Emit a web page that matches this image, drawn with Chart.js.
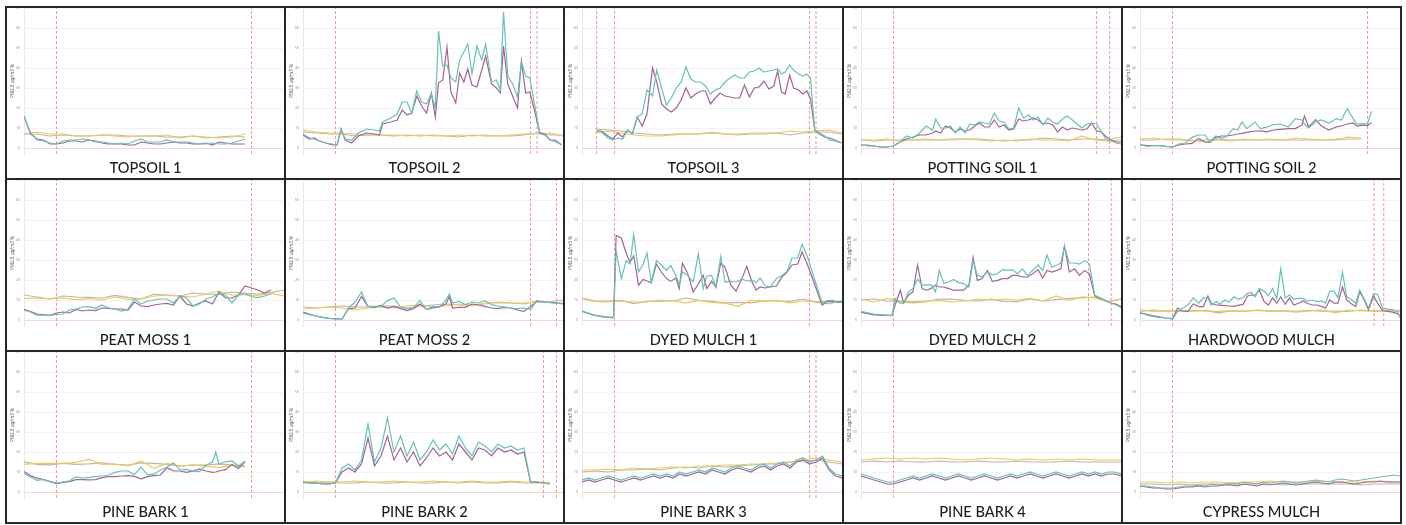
<!DOCTYPE html>
<html>
<head>
<meta charset="utf-8">
<script src="https://cdn.jsdelivr.net/npm/chart.js@4.4.1/dist/chart.umd.min.js"></script>
<style>
  body { margin: 0; background: #fff; width: 1406px; height: 525px; position: relative; overflow: hidden; }
  .cell { position: absolute; width: 281px; height: 174px; border: 2px solid #262626; box-sizing: border-box; background: #fff; }
  .cell canvas { position: absolute; left: 0; top: 0; }
  .name { position: absolute; left: 0; top: 151px; width: 277px; height: 18px; line-height: 18px; text-align: center;
          font-family: Lato, "Noto Sans", sans-serif; font-weight: 500; font-size: 14.6px; color: #1e1e1e; }
</style>
</head>
<body>
<script>
// panel names, first x tick (minutes after midnight), red marker times (minutes after first tick)
const titles = ['TOPSOIL 1', 'TOPSOIL 2', 'TOPSOIL 3', 'POTTING SOIL 1', 'POTTING SOIL 2',
                'PEAT MOSS 1', 'PEAT MOSS 2', 'DYED MULCH 1', 'DYED MULCH 2', 'HARDWOOD MULCH',
                'PINE BARK 1', 'PINE BARK 2', 'PINE BARK 3', 'PINE BARK 4', 'CYPRESS MULCH'];
const firstTick = [931, 859, 785, 827, 908, 778, 667, 601, 695, 648, 923, 567, 748, 832, 778];
const redLines = [[10, 70], [10, 70, 72], [4.5, 10, 70, 72], [10, 72.5, 76.5], [10, 70],
                  [10, 70], [10, 70, 78], [10, 70], [10, 70, 77], [10, 72, 75],
                  [10, 70], [10, 74, 78], [10, 70, 72], [10], [10]];
// the two slow sensors are read every 4 minutes from this offset
const slowStart = [0, 0, 4, 0, 0, 0, 0, 0, 0, 0, 0, 0, 0, 0, 0];
const slowStep = 4;

// TOPSOIL 1
const p1Times = [0,2,4,6,8,10,12,14,16,18,20,22,24,26,28,30,32,34,36,38,40,42,44,46,48,50,52,54,56,58,60,62,64,66,68];
const p1Teal = [16,7.5,4,3.5,2.5,2,3.5,4,4,4.5,4,3,3,2.5,2,2.5,2,3.5,4.5,3,3,3,4,3,3,3,2.5,2,2,2.5,2,2,2.5,3.5,4.5];
const p1Purple = [16,7,4.5,4,2,2,2.5,3.5,3.5,3,4,3.5,2.5,2,2,2,1.5,1.5,3,2.5,2,2,2.5,3,2.5,2.5,2,2,2.5,1.5,3,2.5,2,2,2];
const p1Yellow = [7,8,7,7,6,6,6.5,6,5.5,6,6,6.5,5,6,5.5,5,5.5,7];
const p1Grey = [7,7,6,6.5,6,6,6.5,6.5,6,6,6,5.5,5.5,6,5,5.5,6,5.5];

// TOPSOIL 2
const p2Times = [0,2,3.5,5,7,9,10.5,11.7,13,15,17,19.5,22,23.5,24.5,27,29,30.5,32,33.5,35,36.5,38,39.5,40.7,41.7,43,44.3,45.5,47,48.2,49.5,50.7,52,53.5,55,56.2,58,59.5,60.7,61.7,63,64.5,66,67.2,68.5,69.8,71.5,72.8,74.5,76,77.6,79.5];
const p2Teal = [7,5,4.5,3.5,2.5,2,1.5,9.5,4.5,4,7.5,9.5,9,8.5,13,15,17,23,23,17.5,28.5,23,22,27,20,58.5,41,41.5,35,33,44,48,52,37,51,44,52,33,34,29,68,36,32,25.5,43,36,35,19.5,8,7,4,3,2];
const p2Purple = [6.5,4.5,5,3.5,2.5,1.5,1.5,9.5,4,2.5,6,7.5,7,6.5,12,13,14,19,16.5,17.5,26,21,17.5,27.5,15.5,32.5,34,50.5,28,22.5,37.5,33,39.5,31.5,30.5,39,46,32,30,27.5,51,32,26,20,43.5,27.5,28,17,7.5,6.5,4,4,1.5];
const p2Yellow = [9,8,7.5,7.5,7,6.5,6.5,6.5,6,6.5,6,6,6.5,6,6.5,6,6.5,7,7,7.5,6];
const p2Grey = [8,7.5,7,7,6,6.5,6.5,6,6.5,6,6.5,6,5.5,6.5,6,6,6,6.5,7.5,6.5,6.5];

// TOPSOIL 3
const p3Times = [4.5,6,8,9.5,11,12.5,14,15.5,17,18.5,20,21.7,23,24.5,26,27.5,29,30.5,32,33.5,35,36.5,38,39.5,41,42.5,44,45.5,47,48.5,50,51.5,53,54.5,56,57.5,59,60.2,61.4,62.5,63.9,65.1,66.6,67.9,69.2,70.3,71.6,73.1,74.7,76.2,77.8,79.8];
const p3Teal = [8.5,8,5,4,5,4.5,9,7,15.5,17,29,26,39,30,21.5,25,30,33,40.5,34.5,33,33,31,27,29,30,33,35,36.5,35,35,38,38.5,40,38,38.5,39,39.5,37,38,41.5,39,37,36,37,35,9,7.5,6,4,3.5,2.5];
const p3Purple = [8.5,8.5,6,4.5,7.5,5.5,9,7,15.5,11,17,40,33,22,19.5,18,20,24,30,25,27,28.5,28.5,22,25,27.5,26,25.5,25,25,31.5,25.5,30,30.5,33.5,29.5,31,38.5,28,27,36.5,30,29,27,28.5,24.5,9,7,5.5,5,4,2.5];
const p3Yellow = [7.5,8.5,7.5,6.5,6,6,6.5,7,7,8,7,7,7.5,7.5,7.5,8.5,8,8.5,9,7.5];
const p3Grey = [9.5,9,8.5,7.5,7,6.5,7,7,7,7.5,7,6.5,7,7,7.5,6.5,7.5,8,8,7];

// POTTING SOIL 1
const p4Times = [0,2,4,6,8,10,12,14,16,18,20,22,23,24.5,26,27.5,29,30.5,32,33.5,35,36.5,38,39.5,41,42.5,44,45.5,47,48.5,50,51.5,53,54.5,56,57.5,59,60.5,62,63.5,65,66.5,68,69.5,71,72.5,74,75.5,77,78.5,80];
const p4Teal = [1.5,1,1,0.5,0.5,1,3,6,5,7.5,11,9,14.5,10,10,11,7.5,10.5,7.5,12,11.5,13,12.5,12,17.5,13.5,13,9.5,10,20,15,16.5,14,15.5,11.5,15,13,12,14.5,16,14,12,10,12,12.5,12,8,4,3.5,2.5,2];
const p4Purple = [1.5,1.5,1,0.5,0.5,1,3,4.5,5.5,6.5,6.5,7.5,8.5,7.5,11,10,8,9.5,8.5,9,11,12.5,10.5,10.5,14,10.5,11.5,9,9.5,14.5,13.5,14,15,14,12,12.5,11.5,8,10.5,9,10,9.5,9,9.5,12.5,8.5,8,5.5,4,3,3];
const p4Yellow = [4,4,4.5,3.5,4,4.5,4,4,4.5,4,3.5,4,3.5,4.5,4,4,3.5,6,4,3.5,4];
const p4Grey = [4,3.5,4,4,4,4,4,4.5,4.5,4.5,4,3.5,4,4,5,4.5,4,4.5,4.5,4,5.5];

// POTTING SOIL 2
const p5Times = [0,2,4,6,8,10,12,14,16,18,20,21.5,23.3,25,26.6,28.7,30,31.4,32.8,35.4,37,39,41,43,45.7,47.8,49.8,50.6,51.9,54,55.8,58.1,60.5,61.9,63.8,65.6,66.7,68.5,70,71.2];
const p5Teal = [2,0.8,1.2,1.2,0.8,0.5,2,2.6,5.3,6.5,6.5,3,6,4.8,5.6,9.7,9,13,9.7,13,9.7,10.4,11.7,12,10.5,14.7,14,12,10,13,14,12.5,14.7,14,19.7,14.7,12,12.2,12,18.3];
const p5Purple = [1.5,1.3,1.2,1.2,0.8,0.5,1.5,2,2.3,4.8,3,2.8,5.3,6,6,6.5,7,7.3,7.8,8.5,8.6,8.1,9,9.3,9.7,9.7,11.4,15.9,10.6,14.2,11,9,10.6,11,12,12.6,10.9,11.4,11.2,12.6];
const p5Yellow = [4.5,5,4,4,4,3,4,3.5,4.5,4,4.5,4,5,4.5,4,4.5,5.5,5];
const p5Grey = [4,4,4.5,4.5,3.5,4,4.5,4,4,4,4,4,4,4,4,4,4.5,4.5];

// PEAT MOSS 1
const p6Times = [0,2,4,6,8,10,12,14,16,18,20,22,24,26,28,30,32,34,36,38,40,42,44,46,48,50,52,54,56,58,60,62,64,66,68,70,72,74,76];
const p6Teal = [5,4,2.3,2.5,2.3,2.8,3,5,5.5,6.5,6.7,5.8,7.5,6,5.5,4.5,5.5,10.5,8,9.5,10,10.5,10.5,8.5,12,11,7,8,10.5,11.5,13.3,12.5,8.5,12.5,13.3,11.7,11.2,12,13];
const p6Purple = [5.3,4.2,3,2.7,2.3,3.5,4,3.5,5.3,4.5,5,4.7,6,5.8,5.5,5.5,5,9,7,6.7,7.5,8,8.3,7.5,12,8,7,8.5,9.5,8,14,11,11,12.5,17,16,15,13.5,15];
const p6Yellow = [10.8,11,10.5,11,10.2,10.7,10,11.5,10.3,10.5,12,12.5,12,11.5,13,14.5,12.5,12.5,12.3,13.3,12];
const p6Grey = [12.5,11.5,10.5,12,11.5,11.3,11,12.3,11.3,10.5,13,12.3,12,13.5,13,12.8,14,13.3,13,13.7,15];

// PEAT MOSS 2
const p7Times = [0,2,4,6,8,10,12,14,16,18,20,22,24,26,28,30,32,34,36,38,40,42,44,45,46,48,50,52,54,56,58,60,62,64,66,68,70,72,74,76,78,80];
const p7Teal = [3.5,2.7,2,1.3,0.8,0.5,0.5,6,9,14,6.8,6.8,6.8,9.7,11,6.5,5.5,6,9.8,5.2,6.8,6.3,10,13,8.5,9.3,7.7,9,8.5,9.7,7.7,7,6.5,6,5.7,6,5.2,9.7,9,8.7,8.3,8.3];
const p7Purple = [4,3,2,1.3,0.8,0.7,0.5,5.7,6,11.8,6.8,6.3,7.3,6,6.8,5.7,4.7,5.7,8,5.3,6,6.7,8,11.8,6,6.3,6.3,8,7.5,6.8,6,5.7,6.3,6,5,4.3,6.8,9.3,9,8.8,8.5,8];
const p7Yellow = [5.5,6,6.5,6,5,6,6.5,6,7,7.5,6.5,7,8,7,8.5,8.5,8.5,8.5,9,9,8.5];
const p7Grey = [6.5,6,6.5,7,6.5,6.5,7,7,6,7,7.5,8,7.5,7.5,8,9,8.5,8,9.5,9,10];

// DYED MULCH 1
const p8Times = [0,3.3,6.4,9.7,10.5,12.1,13.6,14.8,15.9,17.4,18.8,20,21.3,22.9,24.4,26,27.3,28.9,29.9,30.9,32.5,34.2,35.8,37.3,38.4,39.9,41.2,42.7,44,45.8,47.4,49.2,50.7,52.3,53.6,54.8,56.4,57.9,59.8,61.5,63.1,64.6,66.4,67.7,69.3,73.9,75.5,77.1,78.6,80];
const p8Teal = [4.6,2.6,1.8,1,34.6,20.7,29.7,28,42.8,24,28,33.4,19,29.7,27.5,24.8,27.2,22.3,17.4,24,22.3,19,33,15.7,22,22.3,16.5,31.8,19,19.3,19,20.5,19.5,19.8,18.7,21,17,16.5,20.7,22.3,24.3,31,31,37.9,32,8.4,9.7,10,8.7,8.9];
const p8Purple = [4.3,2.6,1.6,1.3,42.3,41,33.4,28.9,32,17.4,20.3,19.5,18.7,28,24,20.7,19.3,21,15.7,28.4,23.4,14,18,22.3,15.7,19.3,16.5,28.4,26.4,17.4,14.4,20.7,26.9,19,15,16.5,16,16.5,17,21.5,24,27.5,28,34,28,7.5,9.2,9.2,9.2,9.2];
const p8Yellow = [10.5,9.3,9,9.5,9,9,10,9.6,8.6,9.8,8.8,8.4,6.8,9.8,9.4,9.8,8.6,9.5,9.2,9.4,9.2];
const p8Grey = [10.8,9.6,9.4,9.8,8.2,9.3,9.4,9.5,11,9.8,9.3,8.4,8.8,8.6,9.6,9.5,9.3,10.5,8.8,8.2,9.5];

// DYED MULCH 2
const p9Times = [0,3.8,7.9,9.5,10.5,12.1,13.1,14.6,16,17.4,18.8,20.1,21.5,22.9,24.1,25.5,27,28.5,30.1,31.6,33.2,34.5,35.8,37.3,38.9,40.4,42,43.5,45.1,46.6,48.1,49.7,51.2,52.8,54.5,55.9,57.2,58.7,60.3,61.5,62.6,64.1,65.7,67.2,68.8,70.3,71.9,74.9,77,78.6,80];
const p9Teal = [4.3,3,2.4,2.1,10.8,8.4,8.4,14.1,15.7,20.3,17.7,17.4,17.7,14.1,24.8,18.2,19,20.3,18.7,18.2,16.5,29.7,22.3,21.5,24,22.6,23.1,25.2,24.8,25.2,23.1,25.6,22.3,24.8,27.5,24.8,32.5,26.4,27.5,28.5,36.7,28.5,28.5,28,29.7,28,12.5,10,8.4,7.5,6.2];
const p9Purple = [3.9,2.6,2.3,2.3,7.5,14.9,8.4,12.5,14.1,27.5,15.7,14.9,15.7,17.4,16.5,16.5,15.7,14.9,14.9,14.9,17.4,31.3,19.8,20.7,24.8,19.3,19.8,20.7,20.7,22.3,22.3,21.5,21.5,23.1,25.2,21,24.8,24,24.8,25.6,37,24,25.6,22.3,24.8,23.1,12.1,10,8.4,7.9,6.7];
const p9Yellow = [10.5,9,10.8,9.6,9.2,9.5,9.8,9,9.5,10.5,10,10.5,10,10.8,9.5,12,9.8,11.6,11,9,10.5];
const p9Grey = [10,10.5,9.5,9.2,8.6,9.2,10.4,10.5,9.8,9.5,10.4,9.3,9.2,10.5,9.5,10.2,10.8,11.1,11.5,9.2,10.5];

// HARDWOOD MULCH
const p10Times = [0,1.8,3.8,5.9,8,10,11.6,13.1,14.7,16.4,18.1,19.5,20.9,21.9,23.5,24.5,26.1,27.4,28.9,30.2,31.7,33.1,34.3,35.4,36.7,38.2,39.5,40.8,42.1,43.3,44.7,46,47.3,48.8,50.2,51.4,52.9,54.5,56,57.1,58.4,59.7,60.9,62.3,63.6,64.8,66.4,67.6,69,70.3,71.9,73.1,74.7,76.2,77.8,79.3,80];
const p10Teal = [3.9,2.6,1.8,1.3,1,0.5,4.3,5.9,7.5,11.1,8.4,11.1,11.1,7.5,9.2,7.9,10,8.9,11.6,10.5,11.1,13.3,13.8,11.6,15.7,14.4,12.1,15.7,10.8,25.6,11.1,12.5,10.5,10.8,10.8,9.5,10,9.2,9.5,8.4,14.4,14.4,11.1,23.9,11.6,10.5,8.4,14.9,10.5,5.9,13.3,12.8,5.9,5.4,5.1,3.9,1.3];
const p10Purple = [3.4,3,2.2,1.6,1,0.7,6,4.5,4.2,8,6.7,6.7,12,8.4,7.5,7.4,7.2,7,6.8,7.3,7.8,12,12.5,12.3,14.9,9.2,7.5,11.1,8.4,11.6,7.9,11.1,7.5,8.4,9.5,8.4,7.5,7.5,6.7,5.9,10,8.4,8.4,16.6,10,8.4,6.7,14.1,10,5.1,12.1,8.4,4.6,4.3,3.9,3,1.8];
const p10Yellow = [5.1,4.3,4.6,4.3,4.8,4.6,4.3,4.6,4.3,4.8,4.3,4.6,3.9,4.6,5,3.6,5,4.6,4.6,4.8,4.3];
const p10Grey = [4.3,5,4.5,4.6,4.4,4.8,3.6,4.6,4.4,5,4.6,4.6,4.3,4.8,4.4,4.4,4.3,5,4.3,4.5,5];

// PINE BARK 1
const p11Times = [0,2,4,6,8,10,12,14,16,18,20,22,24,26,28,30,32,34,36,38,40,42,44,46,48,50,52,54,56,58,59,60,62,64,66,68];
const p11Teal = [9.3,7.5,5.8,6.3,5.2,4.4,5,5.6,7.5,7,7.3,7.7,8,8.5,9.8,10.5,10.5,8.7,12.4,8.6,8.9,11,12.5,14.5,11,11.3,10.4,10.2,13.5,15,20,13.8,15.1,15.5,13,15.4];
const p11Purple = [10.2,8.2,6.9,6.2,5.2,4.2,4.8,5.2,6.2,6.2,6.1,6.2,7.2,7.7,7.7,8,8.2,7.8,6.6,7.7,8.2,8.5,12.2,10.5,10.5,9.8,10.5,11.5,10.5,9.8,10,10.5,11.2,13.8,11.8,15.1];
const p11Yellow = [13.8,14.3,14.3,14.3,14.8,16.3,13.8,14,13,15.5,11.8,14.3,13,13.5,12.8,12.3,13.3,12.4];
const p11Grey = [15.1,13.8,13.6,14.3,13.8,14.1,14.6,13.8,13.4,14.6,14.3,13.8,13.1,13.4,13.4,14.1,13.4,13.1];

// PINE BARK 2
const p12Times = [0,2,4,6,8,10,12,14,16,18,20,22,24,26,28,30,32,34,36,38,40,42,44,46,48,50,52,54,56,58,60,62,64,66,68,70,72,74,76];
const p12Teal = [5,4.5,4.5,4,4,4.5,12,14,11,16,34,15,22,37,20,28,18,25,16,20,26,21,24,19,28,22,18,25,23,20,24,22,23,21,22,5,5,4.5,4];
const p12Purple = [5,4.5,4.5,4,4,4.5,10,12,10,14,27,13,18,28,16,22,15,20,13,17,22,18,20,16,24,20,16,22,21,18,22,20,21,19,20,5,5,4.5,4];
const p12Yellow = [5,5.5,5,5,5.5,5,5,5.5,5,5,5.5,5,5,5.5,5,5,5.5,5,5,5];
const p12Grey = [4.5,4.5,5,4.5,4.5,5,4.5,4.5,5,4.5,4.5,5,4.5,5,4.5,4.5,5,4.5,4.5,4.5];

// PINE BARK 3
const p13Times = [0,2,4,6,8,10,12,14,16,18,20,22,24,26,28,30,32,34,36,38,40,42,44,46,48,50,52,54,56,58,60,62,64,66,68,70,72,74,76,78,80];
const p13Teal = [6,7,6,7,8,7,6,7,8,7,8,9,8,9,8,10,9,10,11,10,12,11,10,12,13,12,11,13,14,12,14,15,13,16,17,15,16,18,12,9,8];
const p13Purple = [5,6,5,6,7,6,5,6,7,6,7,8,7,8,7,9,8,9,10,9,11,10,9,11,12,11,10,12,13,11,13,14,12,15,16,14,15,17,11,8,7];
const p13Yellow = [11,11,11.5,11,12,11.5,12,12.5,12,13,13,13.5,13.5,14,14,14.5,15,16,17,16,15];
const p13Grey = [10,10.5,10,11,11,11.5,11,12,12.5,12,13,12.5,13,13.5,14,14,15,15.5,16,15,14];

// PINE BARK 4
const p14Times = [0,2,4,6,8,10,12,14,16,18,20,22,24,26,28,30,32,34,36,38,40,42,44,46,48,50,52,54,56,58,60,62,64,66,68,70,72,74,76,78,80];
const p14Teal = [9,8,7,6,5,5,6,7,8,7,8,9,8,7,8,9,8,7,8,9,8,7,8,9,8,9,10,9,8,9,10,9,8,9,10,9,10,9,10,10,9];
const p14Purple = [8,7,6,5,4,4,5,6,7,6,7,8,7,6,7,8,7,6,7,8,7,6,7,8,7,8,9,8,7,8,9,8,7,8,9,8,9,8,9,9,8];
const p14Yellow = [16,16.5,17,16.5,17,16.5,17,16.5,16,16.5,17,16.5,16,16.5,16,16.5,16,16.5,16,16,16];
const p14Grey = [15,15.5,15,15.5,15,15,15.5,15,15,15.5,15,15,15.5,15,15,15,15.5,15,15,15,15];

// CYPRESS MULCH
const p15Times = [0,2,4,6,8,10,12,14,16,18,20,22,24,26,28,30,32,34,36,38,40,42,44,46,48,50,52,54,56,58,60,62,64,66,68,70,72,74,76,78,80];
const p15Teal = [3,3,2.5,2,2,2,2.5,3,3,3.5,3,4,3.5,4,4.5,4,5,4.5,4,5,4.5,5,5.5,5,4.5,5,5.5,6,5.5,5,6,6.5,6,5.5,6,6.5,7,7.5,8,8.5,8];
const p15Purple = [3,2.5,2,2,1.5,1.5,2,2.5,2.5,3,2.5,3,3,3.5,3.5,3,4,3.5,3,4,3.5,4,4.5,4,3.5,4,4.5,5,4.5,4,5,5,4.5,4,4.5,5,5,5.5,5,5,5];
const p15Yellow = [5,5,4.5,5,4.5,5,5,4.5,5,5,5.5,5,5,5,5.5,5,5,5,5.5,5,5];
const p15Grey = [4,4,3.5,4,3.5,4,4,3.5,4,4,4,3.5,4,4,4,4,4,3.5,4,4,4];

const allTimes = [p1Times, p2Times, p3Times, p4Times, p5Times, p6Times, p7Times, p8Times, p9Times, p10Times, p11Times, p12Times, p13Times, p14Times, p15Times];
const allTeal = [p1Teal, p2Teal, p3Teal, p4Teal, p5Teal, p6Teal, p7Teal, p8Teal, p9Teal, p10Teal, p11Teal, p12Teal, p13Teal, p14Teal, p15Teal];
const allPurple = [p1Purple, p2Purple, p3Purple, p4Purple, p5Purple, p6Purple, p7Purple, p8Purple, p9Purple, p10Purple, p11Purple, p12Purple, p13Purple, p14Purple, p15Purple];
const allYellow = [p1Yellow, p2Yellow, p3Yellow, p4Yellow, p5Yellow, p6Yellow, p7Yellow, p8Yellow, p9Yellow, p10Yellow, p11Yellow, p12Yellow, p13Yellow, p14Yellow, p15Yellow];
const allGrey = [p1Grey, p2Grey, p3Grey, p4Grey, p5Grey, p6Grey, p7Grey, p8Grey, p9Grey, p10Grey, p11Grey, p12Grey, p13Grey, p14Grey, p15Grey];

const yTicks = [0, 10, 20, 30, 40, 50, 60, 70];
const yMin = -3, yMax = 70, xSpan = 80;

const colTeal = '#66c2b5', colPurple = '#a2639c', colYellow = '#f1c94a', colGrey = '#bdb4b4';
const colRed = 'rgba(240,120,120,0.75)';

function clock(m) {
  m = Math.round(m);
  const h = Math.floor(m / 60) % 24;
  const mm = m % 60;
  let hh = h % 12;
  if (hh === 0) hh = 12;
  return hh + ':' + String(mm).padStart(2, '0') + ' ' + (h >= 12 ? 'PM' : 'AM');
}

function line(xs, ys, color) {
  return {
    data: ys.map((v, i) => ({ x: xs[i], y: v })),
    borderColor: color, borderWidth: 1.2, pointRadius: 0, fill: false, tension: 0
  };
}

titles.forEach(function (title, p) {
  const r = Math.floor(p / 5), c = p % 5;
  const cell = document.createElement('div');
  cell.className = 'cell';
  cell.style.left = (5 + c * 279) + 'px';
  cell.style.top = (6 + r * 172) + 'px';
  const canvas = document.createElement('canvas');
  canvas.width = 277;
  canvas.height = 155;
  cell.appendChild(canvas);
  const name = document.createElement('div');
  name.className = 'name';
  name.textContent = title;
  cell.appendChild(name);
  document.body.appendChild(cell);

  const slowX = allYellow[p].map((v, i) => slowStart[p] + i * slowStep);
  const datasets = [
    line(allTimes[p], allTeal[p], colTeal),
    line(allTimes[p], allPurple[p], colPurple),
    line(slowX, allYellow[p], colYellow),
    line(slowX, allGrey[p], colGrey)
  ];
  redLines[p].forEach(function (t) {
    datasets.push({
      data: [{ x: t, y: yMin }, { x: t, y: yMax }],
      borderColor: colRed, borderWidth: 1, borderDash: [3, 2], pointRadius: 0
    });
  });

  new Chart(canvas, {
    type: 'line',
    data: { datasets: datasets },
    options: {
      responsive: false,
      animation: false,
      devicePixelRatio: 1,
      layout: { padding: 0 },
      plugins: { legend: { display: false }, tooltip: { enabled: false } },
      scales: {
        x: {
          type: 'linear', min: 0, max: xSpan,
          grid: { display: false },
          border: { display: false },
          ticks: {
            stepSize: 10, align: 'inner', maxRotation: 0, autoSkip: false, padding: 2,
            font: { size: 3.6, family: 'Noto Sans' }, color: '#9a9a9a',
            callback: v => clock(firstTick[p] + v)
          },
          afterFit: s => { s.height = 9; s.paddingLeft = 0; s.paddingRight = 0; }
        },
        y: {
          min: yMin, max: yMax,
          afterBuildTicks: s => { s.ticks = yTicks.map(v => ({ value: v })); },
          ticks: { padding: 4, font: { size: 3.6, family: 'Noto Sans' }, color: '#9a9a9a' },
          grid: {
            drawTicks: false, lineWidth: 1,
            color: ctx => (ctx.tick && ctx.tick.value === 0) ? 'rgba(240,130,130,0.35)' : '#f3f3f3'
          },
          border: { display: true, color: '#e8e8e8' },
          title: {
            display: true, text: 'PM2.5 µg/m3 %', color: '#555',
            font: { size: 4.6, family: 'Noto Sans' }, padding: { top: 3, bottom: 0 }
          },
          afterFit: s => { s.width = 17; s.paddingTop = 0; s.paddingBottom = 0; }
        }
      }
    }
  });
});
</script>
</body>
</html>
